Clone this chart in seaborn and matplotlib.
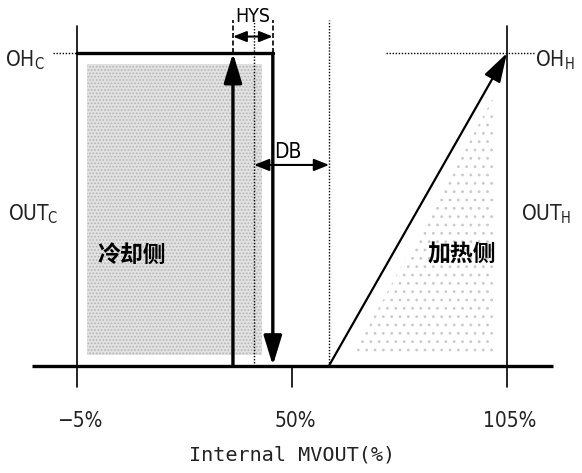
import matplotlib
matplotlib.use("Agg")
import matplotlib.pyplot as plt
import seaborn as sns
import pandas as pd
from matplotlib.patches import Rectangle, Polygon, ArrowStyle

sns.set_theme(style="white")
plt.rcParams['font.family'] = ['DejaVu Sans']
plt.rcParams['font.stretch'] = 'condensed'
plt.rcParams['hatch.linewidth'] = 0.8

# ---- data (schematic values, MV % / output %) ----
x_ticks = [-5, 50, 105]
tick_labels = ['\u22125%', '50%', '105%']
out_levels = [0, 100]            # 0 .. OH
cool_edge = 45.1                 # cooling turns off
cool_on = 34.9                   # cooling turns on (HYS)
setpoint_mid = 40.3              # centre of hysteresis
heat_start = 59.5                # dead band end
heat_x = [heat_start, 105]
heat_y = [0, 100]
cool_x = [-5, cool_edge]
cool_y = [100, 100]

fig = plt.figure(figsize=(5.82, 4.73), dpi=100)
ax = fig.add_axes([0, 0, 1, 1])
ax.set_xlim(-24.7, 124.2)
ax.set_ylim(-34.4, 117.0)
ax.axis('off')

K = 'black'
# baseline and side axes
ax.plot([-16.5, 116.8], [0, 0], color=K, lw=2.4, solid_capstyle='butt')
for xv in [x_ticks[0], x_ticks[2]]:
    ax.plot([xv, xv], [-6.9, 108.6], color=K, lw=1.2)
ax.plot([x_ticks[1], x_ticks[1]], [-6.9, 0], color=K, lw=1.2)

# cooling shaded region
ax.add_patch(Rectangle((-2.4, 3.4), 44.7, 93.1, facecolor='#e2e2e2',
                       edgecolor='#b4b4b4', hatch='.....', lw=0, zorder=0))
# heating shaded region
poly = [(heat_start + 6, 3.4), (101.4, 3.4), (101.4, 85),
        (heat_start + 0.455 * 85 + 3, 85)]
ax.add_patch(Polygon(poly, closed=True, facecolor='white',
                     edgecolor='#cacaca', hatch='..', lw=0, zorder=0))

# cooling output line (top) via seaborn
df_cool = pd.DataFrame({'x': cool_x, 'y': cool_y})
sns.lineplot(data=df_cool, x='x', y='y', ax=ax, color=K, lw=2.4)
ax.plot([-11.1, -5], [100, 100], color=K, lw=1.0, ls=(0, (1, 1.2)))

big = ArrowStyle('-|>', head_length=1.8, head_width=0.55)
ap_thick = dict(arrowstyle=big, mutation_scale=10, color=K, lw=2.4,
                shrinkA=0, shrinkB=0)
ax.annotate('', xy=(cool_edge, 0), xytext=(cool_edge, 100), arrowprops=ap_thick)
ax.annotate('', xy=(cool_on, 100), xytext=(cool_on, 0), arrowprops=ap_thick)

# heating diagonal
ap_diag = dict(arrowstyle=big, mutation_scale=10, color=K, lw=1.6,
               shrinkA=0, shrinkB=0)
ax.annotate('', xy=(heat_x[1], heat_y[1]), xytext=(heat_x[0], heat_y[0]),
            arrowprops=ap_diag)
ax.plot([74.0, 112.2], [100, 100], color=K, lw=1.0, ls=(0, (1, 1.2)))

# dotted verticals
ax.plot([setpoint_mid, setpoint_mid], [0, 110.6], color=K, lw=1.0, ls=(0, (1, 1.2)))
ax.plot([heat_start, heat_start], [0, 110.6], color=K, lw=1.0, ls=(0, (1, 1.2)))

# HYS bracket
for xv in [cool_on, cool_edge]:
    ax.plot([xv, xv], [100, 110.6], color=K, lw=1.2, ls=(0, (3, 1.5)))
small = ArrowStyle('<|-|>', head_length=1.0, head_width=0.4)
ax.annotate('', xy=(cool_on, 105.3), xytext=(cool_edge, 105.3),
            arrowprops=dict(arrowstyle=small, mutation_scale=8, color=K,
                            lw=1.5, shrinkA=0, shrinkB=0))
ax.text(40.0, 111.8, 'HYS', ha='center', va='center', fontsize=14, color=K)

# DB arrow
ax.annotate('', xy=(setpoint_mid, 64.2), xytext=(heat_start, 64.2),
            arrowprops=dict(arrowstyle=small, mutation_scale=9, color=K,
                            lw=1.5, shrinkA=0, shrinkB=0))
ax.text(49.0, 68.5, 'DB', ha='center', va='center', fontsize=15, color=K)

# labels
lab = dict(ha='center', va='center', fontsize=15, color='#222222')
ax.text(-18.3, 97.8, 'OH$_\\mathregular{C}$', **lab)
ax.text(-16.3, 48.5, 'OUT$_\\mathregular{C}$', **lab)
ax.text(117.3, 97.8, 'OH$_\\mathregular{H}$', **lab)
ax.text(115.0, 48.5, 'OUT$_\\mathregular{H}$', **lab)

cjk = dict(ha='center', va='center', fontsize=16.5, fontweight='bold', color=K,
           family=['Noto Sans CJK SC', 'DejaVu Sans'])
ax.text(9.1, 35.4, '冷却侧', **cjk)
ax.text(93.5, 35.4, '加热侧', **cjk)

for xv, t in zip(x_ticks, tick_labels):
    ax.text(xv + 0.8, -17.8, t, ha='center', va='center', fontsize=15, color='#222222')

ax.text(50, -28.6, 'Internal MVOUT(%)', ha='center', va='center', fontsize=14.5,
        color='#222222', family=['DejaVu Sans Mono'])

fig.savefig('out.png', dpi=100)
